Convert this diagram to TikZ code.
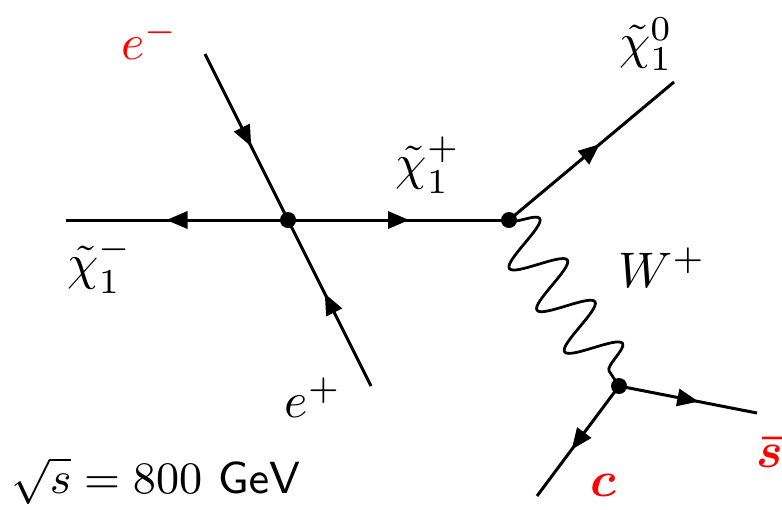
\documentclass[tikz,border=0pt]{standalone}
\usepackage{amsmath}
\usetikzlibrary{decorations.markings,decorations.pathmorphing}
\begin{document}
\begin{tikzpicture}[x=0.2pt,y=-0.2pt,
  fermion/.style={line width=0.6pt, postaction={decorate},
    decoration={markings, mark=at position 0.5 with {\fill (2.1pt,0pt) -- (-2.1pt,1.8pt) -- (-2.1pt,-1.8pt) -- cycle;}}},
  boson/.style={line width=0.55pt, decorate, decoration={snake, amplitude=5.3pt, segment length=10pt}},
  vdot/.style={circle, fill, inner sep=0pt, minimum size=3.2pt},
  lab/.style={font=\fontsize{10}{12}\selectfont, inner sep=0pt},
  ]
\useasboundingbox (0,0) rectangle (782,509);
% vertices
\node[vdot] (v1) at (288,220) {};
\node[vdot] (v2) at (509,220) {};
\node[vdot] (v3) at (619,386) {};
% external ends
\coordinate (em) at (205,54);
\coordinate (ep) at (371,386);
\coordinate (cm) at (66,220);
\coordinate (c0) at (674,82);
\coordinate (sb) at (757,413);
\coordinate (cq) at (537,496);
% propagators
\draw[fermion] (em) -- (v1.center);
\draw[fermion] (ep) -- (v1.center);
\draw[fermion] (v1.center) -- (cm);
\draw[fermion] (v1.center) -- (v2.center);
\draw[fermion] (v2.center) -- (c0);
\draw[boson] (v2.center) -- (v3.center);
\draw[fermion] (v3.center) -- (sb);
\draw[fermion] (v3.center) -- (cq);
% labels
\node[lab, text=red] (lem) at (150,40) {$e^-$};
\node[lab] (lchi0) at (646,44) {$\tilde\chi_1^0$};
\node[lab] (lchip) at (428,165) {$\tilde\chi_1^+$};
\node[lab] (lchim) at (100,265) {$\tilde\chi_1^-$};
\node[lab] (lW) at (662,268) {$W^+$};
\node[lab] (lep) at (313,398) {$e^+$};
\node[lab, text=red] (ls) at (770,453) {$\boldsymbol{\bar s}$};
\node[lab, text=red] (lc) at (603,485) {$\boldsymbol{c}$};
\node[font=\fontsize{9}{11}\selectfont, inner sep=0pt] (lsq) at (156,481) {$\sqrt{s} = 800~\mathsf{GeV}$};
\end{tikzpicture}
\end{document}
